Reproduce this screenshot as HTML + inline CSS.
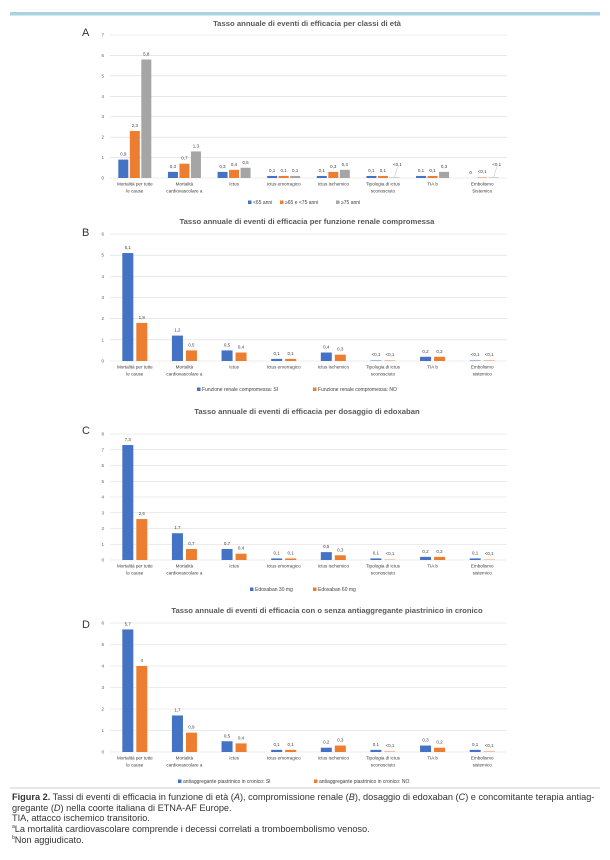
<!DOCTYPE html>
<html><head><meta charset="utf-8"><style>
html,body{margin:0;padding:0;background:#fff;}
body{width:610px;height:860px;position:relative;overflow:hidden;font-family:"Liberation Sans",sans-serif;}
#cap{position:absolute;left:12px;top:792px;width:600px;font-size:9.2px;line-height:10.7px;color:#333;white-space:nowrap;}
#cap sup{font-size:5px;line-height:0;vertical-align:4px;}
</style></head><body>
<svg id="s" width="610" height="860" xmlns="http://www.w3.org/2000/svg" style="position:absolute;left:0;top:0">
<rect x="10" y="12" width="590" height="3.5" fill="#a9d3e5"/>
<line x1="10" y1="788" x2="600" y2="788" stroke="#bbb" stroke-width="0.8"/>
</svg>
<div id="cap"><b style="font-weight:bold">Figura 2.</b> Tassi di eventi di efficacia in funzione di età (<i>A</i>), compromissione renale (<i>B</i>), dosaggio di edoxaban (<i>C</i>) e concomitante terapia antiag-<br>gregante (<i>D</i>) nella coorte italiana di ETNA-AF Europe.<br>TIA, attacco ischemico transitorio.<br><sup>a</sup>La mortalità cardiovascolare comprende i decessi correlati a tromboembolismo venoso.<br><sup>b</sup>Non aggiudicato.</div>
<script>
var S=document.getElementById('s'),NS='http://www.w3.org/2000/svg';
function el(t,a,txt){var e=document.createElementNS(NS,t);for(var k in a)e.setAttribute(k,a[k]);if(txt!=null)e.textContent=txt;S.appendChild(e);return e;}
var C=['#4472c4','#ed7d31','#a5a5a5'];
var cats=[["Mortalità per tutte","le cause"],["Mortalità","cardiovascolare a"],["Ictus"],["Ictus emorragico"],["Ictus ischemico"],["Tipologia di ictus","sconosciuto"],["TIA b"],["Embolismo","sistemico"]];
function panel(p){
 var L=110,R=507,cw=(R-L)/8;
 el('text',{x:p.tx,y:p.ty,'font-size':7.7,'font-weight':'bold',fill:'#595959','text-anchor':'middle'},p.title);
 el('text',{x:82,y:p.ly,'font-size':11,fill:'#333'},p.letter);
 for(var i=0;i<=p.max;i++){var y=p.y0-(p.y0-p.ytop)*i/p.max;
  el('line',{x1:L,x2:R,y1:y,y2:y,stroke:'#d9d9d9','stroke-width':0.6});
  el('text',{x:104,y:y+1.5,'font-size':4.5,fill:'#595959','text-anchor':'end'},i);}
 var u=(p.y0-p.ytop)/p.max,n=p.data[0].length,bw=p.bw,gap=p.gap;
 for(var c=0;c<8;c++){var cx=L+cw*(c+.5),gw=n*bw+(n-1)*gap;
  for(var j=0;j<n;j++){var v=p.data[c][j],lab=v;var val;
   if(v==='<0,1'){val=0.05;}else if(v==='0'){val=0;}else val=parseFloat(v.replace(',','.'));
   var x=cx-gw/2+j*(bw+gap),h=val*u;
   el('rect',{x:x,y:p.y0-h,width:bw,height:Math.max(h,0),fill:C[j],opacity:v==='<0,1'?0.45:1});
   var ld=v==='<0,1'&&p.lead&&p.lead[c]&&p.lead[c][j];
   var ly=p.y0-h-4;if(ld){ly=p.y0-12;el('line',{x1:x+bw/2,y1:p.y0-1,x2:x+bw/2+3,y2:ly+1,stroke:'#aaa','stroke-width':0.4});}
   el('text',{x:x+bw/2+(ld?3:0),y:ly,'font-size':4.5,fill:'#404040','text-anchor':'middle'},lab);}
  var cl=cats[c].slice();if(p.emb&&c==7)cl=["Embolismo","Sistemico"];
  for(var k=0;k<cl.length;k++)el('text',{x:cx,y:p.y0+7.5+k*7,'font-size':4.6,fill:'#404040','text-anchor':'middle'},cl[k]);}
 var x=p.lgx;for(var m=0;m<p.leg.length;m++){el('rect',{x:x,y:p.lgy-3.5,width:3.5,height:3.5,fill:C[m]});
  el('text',{x:x+5,y:p.lgy,'font-size':5,fill:'#404040'},p.leg[m]);x+=p.lgs[m];}
}
panel({title:'Tasso annuale di eventi di efficacia per classi di età',tx:307,ty:26,letter:'A',ly:36,max:7,ytop:35,y0:178,bw:10,gap:1.5,emb:true,
 data:[['0,9','2,3','5,8'],['0,3','0,7','1,3'],['0,3','0,4','0,5'],['0,1','0,1','0,1'],['0,1','0,3','0,4'],['0,1','0,1','<0,1'],['0,1','0,1','0,3'],['0','<0,1','<0,1']],
 lead:{5:{2:1},7:{2:1}},leg:['<65 anni','≥65 e <75 anni','≥75 anni'],lgs:[32,56,40],lgx:248,lgy:204});
panel({title:'Tasso annuale di eventi di efficacia per funzione renale compromessa',tx:307,ty:224,letter:'B',ly:236,max:6,ytop:234,y0:361,bw:11,gap:3,
 data:[['5,1','1,8'],['1,2','0,5'],['0,5','0,4'],['0,1','0,1'],['0,4','0,3'],['<0,1','<0,1'],['0,2','0,2'],['<0,1','<0,1']],
 leg:['Funzione renale compromessa: SI','Funzione renale compromessa: NO'],lgs:[116,100],lgx:197,lgy:391});
panel({title:'Tasso annuale di eventi di efficacia per dosaggio di edoxaban',tx:307,ty:414,letter:'C',ly:434,max:8,ytop:434,y0:560,bw:11,gap:3,
 data:[['7,3','2,6'],['1,7','0,7'],['0,7','0,4'],['0,1','0,1'],['0,5','0,3'],['0,1','<0,1'],['0,2','0,2'],['0,1','<0,1']],
 leg:['Edoxaban 30 mg','Edoxaban 60 mg'],lgs:[63,60],lgx:250,lgy:591});
panel({title:'Tasso annuale di eventi di efficacia con o senza antiaggregante piastrinico in cronico',tx:327,ty:613,letter:'D',ly:628,max:6,ytop:623,y0:752,bw:11,gap:3,
 data:[['5,7','4'],['1,7','0,9'],['0,5','0,4'],['0,1','0,1'],['0,2','0,3'],['0,1','<0,1'],['0,3','0,2'],['0,1','<0,1']],
 leg:['antiaggregante piastrinico in cronico: SI','antiaggregante piastrinico in cronico: NO'],lgs:[136,120],lgx:178,lgy:783});
</script>
</body></html>
